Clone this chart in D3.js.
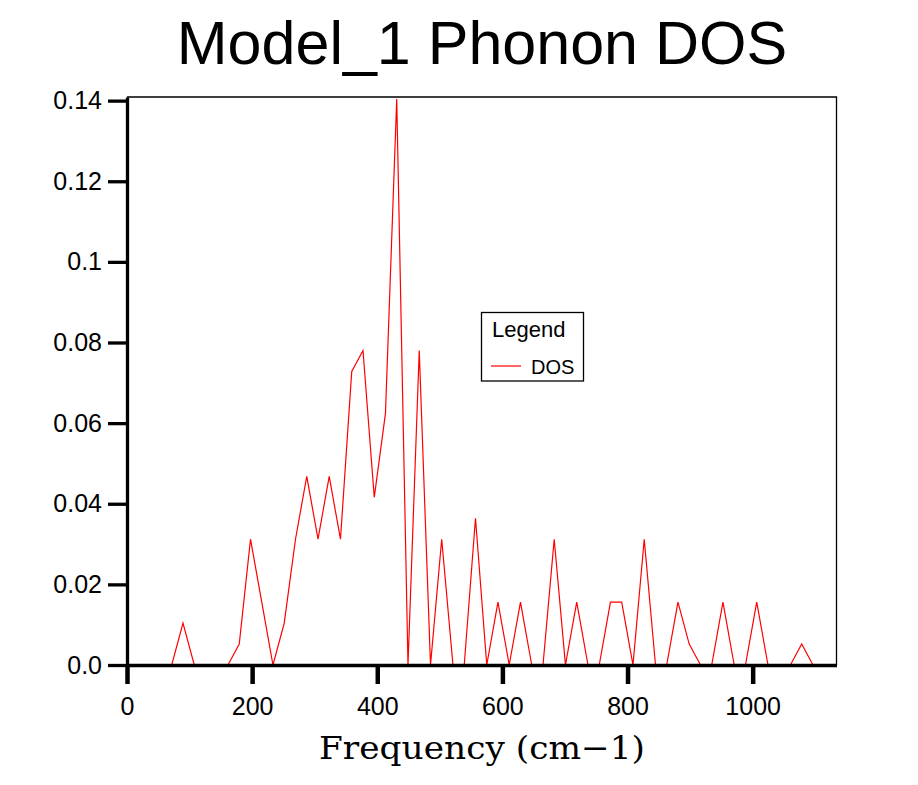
<!DOCTYPE html>
<html>
<head>
<meta charset="utf-8">
<script src="https://cdn.jsdelivr.net/npm/d3@7"></script>
<style>
  body { margin: 0; background: #ffffff; }
  text { font-family: "Liberation Sans", Arial, sans-serif; }
</style>
</head>
<body>
<div id="chart"></div>
<script>
var w = 918;
var h = 785;

// frequency grid (cm-1) and DOS
var freq = [0, 17.6, 35.6, 53.5, 71.5, 89.5, 107.5, 125.5, 143.4, 161.4,
  179.4, 197.4, 215.4, 233.3, 251.3, 269.3, 287.3, 305.3, 323.2, 341.2,
  359.2, 377.2, 395.2, 413.1, 431.1, 449.1, 467.1, 485.1, 503.0, 521.0,
  539.0, 557.0, 575.0, 592.9, 610.9, 628.9, 646.9, 664.9, 682.8, 700.8,
  718.8, 736.8, 754.8, 772.7, 790.7, 808.7, 826.7, 844.7, 862.6, 880.6,
  898.6, 916.6, 934.6, 952.5, 970.5, 988.5, 1006.5, 1024.5, 1042.4, 1060.4,
  1078.4, 1096.4, 1114.4];
var dos = [0, 0, 0, 0, 0, 0.0104, 0, 0, 0, 0,
  0.0052, 0.0312, 0.0156, 0, 0.0104, 0.0312, 0.0468, 0.0312, 0.0468, 0.0312,
  0.0728, 0.078, 0.0416, 0.0624, 0.1404, 0, 0.078, 0, 0.0312, 0,
  0, 0.0364, 0, 0.0156, 0, 0.0156, 0, 0, 0.0312, 0,
  0.0156, 0, 0, 0.0156, 0.0156, 0, 0.0312, 0, 0, 0.0156,
  0.0052, 0, 0, 0.0156, 0, 0, 0.0156, 0, 0, 0,
  0.0052, 0, 0];

var xTicks = [0, 200, 400, 600, 800, 1000];
var yTicks = [0, 0.02, 0.04, 0.06, 0.08, 0.1, 0.12, 0.14];
var yTickLabels = ['0.0', '0.02', '0.04', '0.06', '0.08', '0.1', '0.12', '0.14'];

// plot box (window.top is reserved, so use other names)
var plotLeft = 127, plotRight = 836.5, plotTop = 97, plotBottom = 665;

var svg = d3.select('#chart')
  .append('svg')
    .attr('width', w)
    .attr('height', h)
    .style('background', '#ffffff');

var x = d3.scaleLinear().domain([0, 1134]).range([plotLeft, plotRight]);
var y = d3.scaleLinear().domain([0, 0.1409]).range([plotBottom, plotTop]);

// title
svg.append('text')
  .attr('x', 482)
  .attr('y', 64)
  .attr('text-anchor', 'middle')
  .style('font-size', '61px')
  .text('Model_1 Phonon DOS');

// frame (top and right)
svg.append('path')
  .attr('d', 'M' + plotLeft + ',' + plotTop + 'H' + plotRight + 'V' + plotBottom)
  .attr('fill', 'none')
  .attr('stroke', '#000')
  .attr('stroke-width', 1.3);

// DOS line
var line = d3.line()
  .x(function(d, i) { return x(freq[i]); })
  .y(function(d) { return y(d); });

svg.append('path')
  .datum(dos)
  .attr('d', line)
  .attr('fill', 'none')
  .attr('stroke', '#ff0000')
  .attr('stroke-width', 1.2);

// axes
var xAxis = svg.append('g')
  .attr('transform', 'translate(0,' + plotBottom + ')')
  .call(d3.axisBottom(x).tickValues(xTicks).tickSize(19).tickSizeOuter(0)
    .tickFormat(d3.format('d')));
xAxis.select('.domain').attr('stroke-width', 3.3);
xAxis.selectAll('.tick line').attr('stroke-width', 4.5);
xAxis.selectAll('.tick text')
  .attr('y', 50)
  .attr('dy', 0)
  .style('font-size', '25px')
  .style('font-family', '"Liberation Sans", Arial, sans-serif')
  .attr('fill', '#000');

var yAxis = svg.append('g')
  .attr('transform', 'translate(' + plotLeft + ',0)')
  .call(d3.axisLeft(y).tickValues(yTicks).tickSize(19).tickSizeOuter(0)
    .tickPadding(6)
    .tickFormat(function(d, i) { return yTickLabels[i]; }));
yAxis.select('.domain').attr('stroke-width', 3.3);
yAxis.selectAll('.tick line').attr('stroke-width', 3.3);
yAxis.selectAll('.tick text')
  .style('font-size', '25px')
  .style('font-family', '"Liberation Sans", Arial, sans-serif')
  .attr('fill', '#000');
xAxis.raise();

// x axis label
svg.append('text')
  .attr('x', 482)
  .attr('y', 759)
  .attr('text-anchor', 'middle')
  .attr('textLength', 326)
  .attr('lengthAdjust', 'spacingAndGlyphs')
  .style('font-family', '"DejaVu Serif", serif')
  .style('font-size', '32px')
  .text('Frequency (cm\u22121)');

// legend
var legend = svg.append('g').attr('class', 'legend');
legend.append('rect')
  .attr('x', 481.5)
  .attr('y', 312.5)
  .attr('width', 102)
  .attr('height', 68.5)
  .attr('fill', '#fff')
  .attr('stroke', '#000')
  .attr('stroke-width', 1.3);
legend.append('text')
  .attr('x', 492)
  .attr('y', 337)
  .style('font-size', '22px')
  .text('Legend');
legend.append('line')
  .attr('x1', 491).attr('x2', 521)
  .attr('y1', 366).attr('y2', 366)
  .attr('stroke', '#ff0000')
  .attr('stroke-width', 1.2);
legend.append('text')
  .attr('x', 531)
  .attr('y', 374)
  .style('font-size', '20px')
  .text('DOS');
</script>
</body>
</html>
